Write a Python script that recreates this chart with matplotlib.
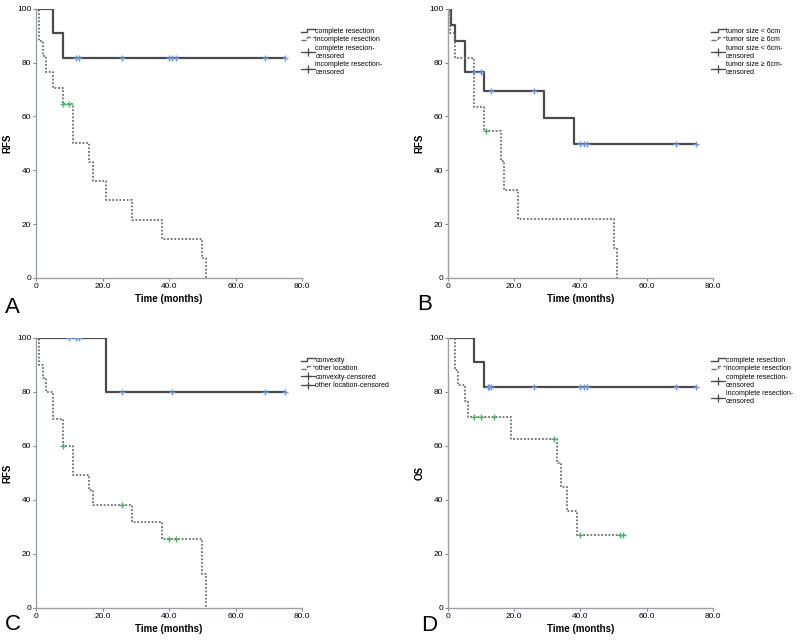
import matplotlib.pyplot as plt
from matplotlib.lines import Line2D
from matplotlib.legend_handler import HandlerBase

plt.rcParams['font.family'] = ['Liberation Sans', 'DejaVu Sans']

# Panel A: RFS by resection
a_comp_t = [0, 5, 8, 75]
a_comp_s = [100, 90.9, 81.8, 81.8]
a_comp_cens = [12, 13, 26, 40, 41, 42, 69, 75]
a_inc_t = [0, 1, 2, 3, 5, 8, 11, 16, 17, 21, 29, 38, 50, 51]
a_inc_s = [100, 88.2, 82.4, 76.5, 70.6, 64.7, 50.3, 43.1, 35.9, 28.8, 21.6, 14.4, 7.2, 0]
a_inc_cens = [8, 10]

# Panel B: RFS by tumor size
b_small_t = [0, 1, 2, 5, 11, 29, 38, 75]
b_small_s = [100, 94.1, 88.2, 76.5, 69.5, 59.6, 49.6, 49.6]
b_small_cens = [8, 10, 13, 26, 40, 41, 42, 69, 75]
b_large_t = [0, 0.5, 2, 8, 11, 16, 17, 21, 50, 51]
b_large_s = [100, 90.9, 81.8, 63.6, 54.5, 43.6, 32.7, 21.8, 10.9, 0]
b_large_cens = [11.5]

# Panel C: RFS by location
c_conv_t = [0, 21, 75]
c_conv_s = [100, 80, 80]
c_conv_cens = [10, 12, 13, 26, 41, 69, 75]
c_oth_t = [0, 1, 2, 3, 5, 8, 11, 16, 17, 29, 38, 50, 51]
c_oth_s = [100, 90, 85, 80, 70, 60, 49.1, 43.6, 38.2, 31.8, 25.5, 12.7, 0]
c_oth_cens = [8, 26, 40, 42]

# Panel D: OS by resection
d_comp_t = [0, 8, 11, 75]
d_comp_s = [100, 90.9, 81.8, 81.8]
d_comp_cens = [12, 12.5, 13, 26, 40, 41, 42, 69, 75]
d_inc_t = [0, 2, 3, 5, 6, 19, 33, 34, 36, 39, 53.5]
d_inc_s = [100, 88.2, 82.4, 76.5, 70.6, 62.7, 53.8, 44.8, 35.8, 26.9, 26.9]
d_inc_cens = [8, 10, 14, 32, 40, 52, 53]

x_ticks = [0, 20, 40, 60, 80]
x_tick_labels = ['0', '20.0', '40.0', '60.0', '80.0']
y_ticks = [0, 20, 40, 60, 80, 100]

SOLID = '#4a4a4a'
DOTTED = '#6e6e6e'
BLUE = '#6f95dd'
GREEN = '#44b86a'


class StepHandler(HandlerBase):
    # legend symbol drawn as a small step, like SPSS output
    def create_artists(self, legend, orig, xd, yd, width, height, fontsize, trans):
        xs = [xd, xd + width * 0.45, xd + width * 0.45, xd + width]
        ys = [yd + height * 0.2, yd + height * 0.2, yd + height * 0.8, yd + height * 0.8]
        ln = Line2D(xs, ys, color=orig.get_color(), lw=orig.get_linewidth(),
                    linestyle=orig.get_linestyle(), transform=trans)
        return [ln]


def surv_at(t_list, s_list, x):
    val = s_list[0]
    for t, s in zip(t_list, s_list):
        if t <= x:
            val = s
    return val


def km_panel(ax, t1, s1, c1, t2, s2, c2, labels, ylabel):
    ax.step(t1, s1, where='post', color=SOLID, lw=1.6)
    ax.step(t2, s2, where='post', color=DOTTED, lw=1.3, linestyle=(0, (1, 1)))
    ax.plot(c1, [surv_at(t1, s1, x) for x in c1], '+', color=BLUE, ms=5, mew=1)
    ax.plot(c2, [surv_at(t2, s2, x) for x in c2], '+', color=GREEN, ms=5, mew=1)

    ax.set_xlim(0, 80)
    ax.set_ylim(0, 100)
    ax.set_xticks(x_ticks)
    ax.set_xticklabels(x_tick_labels)
    ax.set_yticks(y_ticks)
    ax.tick_params(labelsize=6, length=2.5, width=0.8, color='#888888', pad=1)
    for side in ['top', 'right']:
        ax.spines[side].set_visible(False)
    for side in ['left', 'bottom']:
        ax.spines[side].set_color('#9aa0a8')
        ax.spines[side].set_linewidth(1.0)
    ax.set_xlabel('Time (months)', fontsize=7, fontweight='bold', labelpad=3)
    ax.set_ylabel(ylabel, fontsize=7, fontweight='bold', labelpad=3)

    step_solid = Line2D([], [], color=SOLID, lw=1.0)
    step_dot = Line2D([], [], color=DOTTED, lw=1.0, linestyle=(0, (1, 1)))
    handles = [
        step_solid,
        step_dot,
        Line2D([], [], color=SOLID, lw=0.9, marker='+', ms=6, mew=0.9),
        Line2D([], [], color=SOLID, lw=0.9, marker='+', ms=6, mew=0.9),
    ]
    ax.legend(handles, labels, loc='upper left', bbox_to_anchor=(0.995, 0.93),
              frameon=False, fontsize=5, handlelength=2.0, handletextpad=0.1,
              labelspacing=0.2, borderaxespad=0.0, borderpad=0.0,
              handler_map={step_solid: StepHandler(), step_dot: StepHandler()})


fig = plt.figure(figsize=(8, 6.4), dpi=100)
axA = fig.add_axes([0.045, 0.566, 0.3325, 0.42])
axB = fig.add_axes([0.56, 0.566, 0.331, 0.42])
axC = fig.add_axes([0.045, 0.05, 0.3325, 0.422])
axD = fig.add_axes([0.56, 0.05, 0.331, 0.422])

km_panel(axA, a_comp_t, a_comp_s, a_comp_cens, a_inc_t, a_inc_s, a_inc_cens,
         ['complete resection', 'incomplete resection',
          'complete resecion-\ncensored', 'incomplete resection-\ncensored'],
         'RFS')
km_panel(axB, b_small_t, b_small_s, b_small_cens, b_large_t, b_large_s, b_large_cens,
         ['tumor size < 6cm', 'tumor size \u2265 6cm',
          'tumor size < 6cm-\ncensored', 'tumor size \u2265 6cm-\ncensored'],
         'RFS')
km_panel(axC, c_conv_t, c_conv_s, c_conv_cens, c_oth_t, c_oth_s, c_oth_cens,
         ['convexity', 'other location', 'convexity-censored',
          'other location-censored'],
         'RFS')
km_panel(axD, d_comp_t, d_comp_s, d_comp_cens, d_inc_t, d_inc_s, d_inc_cens,
         ['complete resection', 'incomplete resection',
          'complete resection-\ncensored', 'incomplete resection-\ncensored'],
         'OS')

# panel letters
fig.text(0.006, 0.519, 'A', fontsize=16, ha='left', va='center')
fig.text(0.521, 0.525, 'B', fontsize=16, ha='left', va='center')
fig.text(0.006, 0.024, 'C', fontsize=16, ha='left', va='center')
fig.text(0.526, 0.022, 'D', fontsize=16, ha='left', va='center')

fig.savefig('out.png', dpi=100)
